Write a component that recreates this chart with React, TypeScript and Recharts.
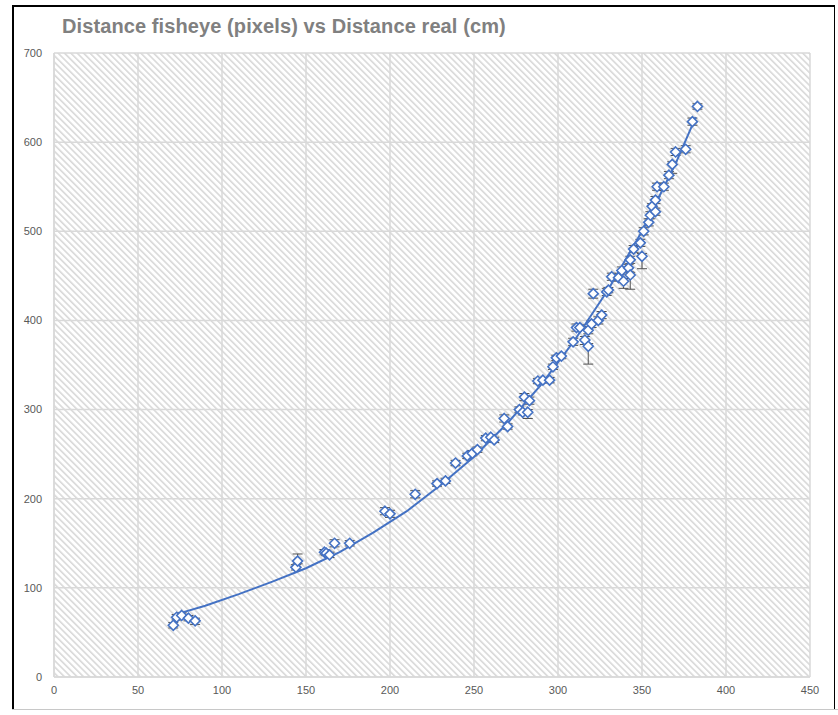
import { ScatterChart, Scatter, XAxis, YAxis, CartesianGrid, ErrorBar } from 'recharts';

const BLUE = '#4472C4';
const GRID = '#d9d9d9';
const LABEL = '#595959';

const xTicks = [0, 50, 100, 150, 200, 250, 300, 350, 400, 450];
const yTicks = [0, 100, 200, 300, 400, 500, 600, 700];

// distance real (cm)
const realCm = [
    71, 73, 76, 80, 84, 144, 145, 161, 162, 164, 167, 176, 197, 200, 215, 228, 233, 239, 246, 249,
    252, 257, 260, 262, 268, 270, 277, 279, 280, 282, 283, 288, 291, 295, 297, 299, 302, 309, 311, 313,
    316, 318, 318, 320, 321, 324, 326, 329, 330, 332, 336, 338, 339, 342, 343, 343, 345, 349, 350, 351,
    354, 355, 356, 358, 358, 359, 363, 366, 368, 370, 376, 380, 383,
];
// distance fisheye (pixels)
const fisheyePx = [
    58, 67, 69, 66, 63, 123, 130, 140, 139, 137, 150, 150, 186, 183, 205, 217, 220, 240, 248, 251,
    255, 268, 269, 266, 290, 281, 300, 297, 314, 297, 310, 332, 333, 333, 348, 358, 360, 376, 392, 392,
    378, 371, 389, 396, 430, 400, 406, 432, 434, 449, 448, 456, 444, 459, 468, 451, 480, 487, 472, 500,
    510, 518, 528, 522, 535, 550, 550, 563, 575, 589, 592, 623, 640,
];
// error below / above each point
const errLow = [
    3, 3, 3, 3, 4, 3, 3, 3, 3, 3, 4, 3, 4, 4, 4, 3, 3, 3, 3, 3,
    3, 3, 3, 3, 4, 3, 3, 3, 4, 7, 4, 3, 3, 3, 3, 3, 3, 4, 4, 3,
    5, 20, 4, 4, 5, 4, 4, 4, 3, 4, 4, 4, 8, 4, 4, 16, 4, 4, 14, 4,
    4, 4, 10, 4, 4, 4, 4, 4, 10, 4, 4, 4, 3,
];
const errHigh = [
    3, 3, 3, 3, 3, 3, 8, 3, 3, 3, 4, 3, 4, 4, 4, 3, 3, 3, 3, 3,
    3, 3, 3, 3, 4, 3, 3, 3, 4, 3, 4, 3, 3, 3, 3, 3, 3, 4, 4, 3,
    4, 3, 4, 4, 5, 4, 4, 4, 3, 4, 4, 4, 3, 4, 4, 3, 4, 4, 3, 4,
    4, 4, 3, 4, 4, 4, 4, 4, 3, 4, 4, 4, 3,
];

// trendline
const trendX = [72, 90, 110, 130, 150, 170, 190, 210, 230, 250, 270, 290, 310, 330, 350, 370, 382];
const trendY = [70, 80, 93, 107, 122, 140, 162, 186, 215, 247, 285, 328, 378, 435, 500, 576, 628];

const points = realCm.map((x, i) => ({ x, y: fisheyePx[i], err: [errLow[i], errHigh[i]] }));
const trend = trendX.map((x, i) => ({ x, y: trendY[i] }));

function Diamond(props: any) {
    const { cx, cy } = props;
    if (cx == null || cy == null) return <g />;
    const r = 5;
    return (
        <polygon
            points={`${cx},${cy - r} ${cx + r},${cy} ${cx},${cy + r} ${cx - r},${cy}`}
            fill="#fff"
            stroke={BLUE}
            strokeWidth={1.6}
        />
    );
}

const tickStyle = { fontSize: 11, fill: LABEL, fontFamily: '"Liberation Sans Narrow", "Liberation Sans", sans-serif' };

export default function App() {
    return (
        <div style={{ position: 'absolute', left: 0, top: 0, width: 838, height: 715, background: '#fff', overflow: 'hidden' }}>
            <div style={{ position: 'absolute', left: 12, top: 5, width: 820, height: 703, borderLeft: '2px solid #000', borderTop: '2px solid #000', borderRight: '1px solid #000' }} />
            <div style={{ position: 'absolute', left: 12, top: 709, width: 826, height: 1, background: '#c8c8c8' }} />
            <div
                style={{
                    position: 'absolute',
                    left: 62,
                    top: 15,
                    fontSize: 20,
                    color: '#808080',
                    fontFamily: '"Liberation Sans Narrow", "Liberation Sans", sans-serif',
                    fontWeight: 'bold',
                    whiteSpace: 'nowrap',
                    letterSpacing: 0.1,
                }}
            >
                Distance fisheye (pixels) vs Distance real (cm)
            </div>
            <ScatterChart width={838} height={715} margin={{ top: 53, right: 28, bottom: 8, left: 14 }} style={{ position: 'absolute', left: 0, top: 0 }}>
                <defs>
                    <pattern id="hatch" width="4.5" height="4.5" patternUnits="userSpaceOnUse" patternTransform="rotate(45)">
                        <rect width="4.5" height="4.5" fill="#fff" />
                        <line x1="0" y1="1" x2="4.5" y2="1" stroke="#d6d6d6" strokeWidth="1.5" />
                    </pattern>
                </defs>
                <CartesianGrid stroke={GRID} strokeWidth={1.5} fill="url(#hatch)" />
                <XAxis
                    type="number"
                    dataKey="x"
                    domain={[0, 450]}
                    ticks={xTicks}
                    tick={tickStyle}
                    tickLine={false}
                    axisLine={{ stroke: GRID, strokeWidth: 1.5 }}
                    tickSize={0}
                    tickMargin={9}
                    height={30}
                />
                <YAxis
                    type="number"
                    dataKey="y"
                    domain={[0, 700]}
                    ticks={yTicks}
                    tick={tickStyle}
                    tickLine={false}
                    axisLine={{ stroke: GRID, strokeWidth: 1.5 }}
                    tickSize={0}
                    tickMargin={12}
                    width={40}
                />
                <Scatter data={trend} line={{ stroke: BLUE, strokeWidth: 2 }} lineType="joint" shape={() => <g />} isAnimationActive={false} />
                <Scatter data={points} shape={Diamond} isAnimationActive={false}>
                    <ErrorBar dataKey="err" direction="y" stroke="#505050" strokeWidth={1} width={5} />
                </Scatter>
            </ScatterChart>
        </div>
    );
}
